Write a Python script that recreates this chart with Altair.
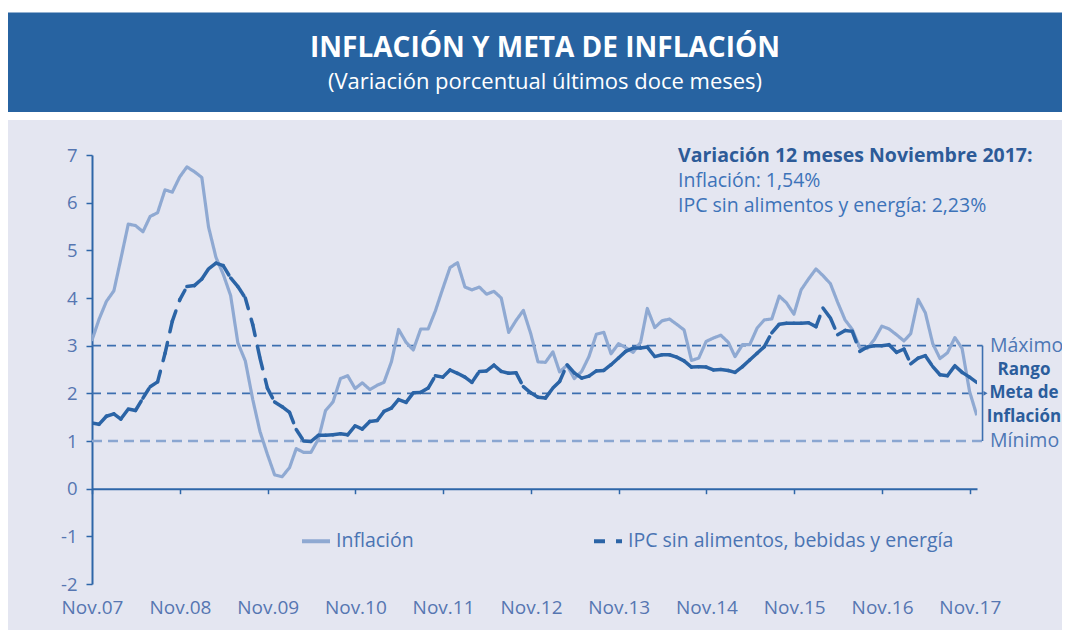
import altair as alt
import pandas as pd

# ---------------- data ----------------
first_month = "2007-10-01"
inflacion = [
    3.10, 3.55, 3.93,
    4.15, 4.82, 5.55, 5.52, 5.39, 5.71, 5.79, 6.27, 6.22, 6.54, 6.75, 6.65,
    6.53, 5.49, 4.85, 4.50, 4.05, 3.06, 2.68, 1.87, 1.20, 0.72, 0.29, 0.25,
    0.44, 0.84, 0.76, 0.76, 1.04, 1.64, 1.82, 2.31, 2.37, 2.10, 2.22, 2.08,
    2.17, 2.23, 2.66, 3.34, 3.07, 2.91, 3.35, 3.35, 3.73, 4.20, 4.64, 4.74,
    4.23, 4.17, 4.23, 4.08, 4.14, 4.00, 3.28, 3.53, 3.74, 3.25, 2.66, 2.65,
    2.87, 2.45, 2.59, 2.31, 2.46, 2.77, 3.24, 3.28, 2.83, 3.04, 2.96, 2.86,
    3.07, 3.78, 3.38, 3.52, 3.56, 3.45, 3.33, 2.69, 2.74, 3.09, 3.16, 3.22,
    3.07, 2.77, 3.02, 3.02, 3.37, 3.54, 3.56, 4.04, 3.90, 3.66, 4.17, 4.40,
    4.61, 4.47, 4.30, 3.91, 3.54, 3.34, 2.96, 2.94, 3.13, 3.41, 3.35, 3.23,
    3.10, 3.25, 3.97, 3.69, 3.04, 2.73, 2.85, 3.17, 2.94, 2.04, 1.54,
]
ipc_sae = [
    1.38, 1.35, 1.52,
    1.57, 1.46, 1.67, 1.64, 1.90, 2.14, 2.24, 2.84, 3.51, 3.96, 4.24, 4.26,
    4.40, 4.61, 4.73, 4.68, 4.42, 4.24, 4.00, 3.44, 2.74, 2.11, 1.82, 1.72,
    1.60, 1.24, 1.00, 0.99, 1.12, 1.12, 1.13, 1.15, 1.13, 1.32, 1.25, 1.41,
    1.43, 1.62, 1.69, 1.87, 1.81, 2.01, 2.02, 2.11, 2.37, 2.34, 2.49, 2.42,
    2.34, 2.23, 2.46, 2.47, 2.59, 2.46, 2.42, 2.43, 2.14, 2.01, 1.92, 1.90,
    2.11, 2.25, 2.60, 2.43, 2.32, 2.36, 2.47, 2.48, 2.60, 2.74, 2.88, 2.95,
    2.95, 2.97, 2.77, 2.81, 2.81, 2.76, 2.68, 2.55, 2.56, 2.55, 2.49, 2.50,
    2.48, 2.44, 2.56, 2.70, 2.84, 2.98, 3.27, 3.45, 3.47, 3.47, 3.47, 3.48,
    3.40, 3.79, 3.58, 3.23, 3.32, 3.30, 2.88, 2.97, 3.00, 3.00, 3.02, 2.86,
    2.93, 2.62, 2.74, 2.79, 2.56, 2.39, 2.37, 2.58, 2.44, 2.34, 2.23,
]
series_names = ["Inflación", "IPC sin alimentos, bebidas y energía"]
tick_years = list(range(2007, 2018))
y_ticks = list(range(-2, 8))
target_levels = [3, 2, 1]
title_text = "INFLACIÓN Y META DE INFLACIÓN"
subtitle_text = "(Variación porcentual últimos doce meses)"
note_lines = ["Variación 12 meses Noviembre 2017:",
              "Inflación: 1,54%",
              "IPC sin alimentos y energía: 2,23%"]
range_top, range_bottom = "Máximo", "Mínimo"
range_mid = ["Rango", "Meta de", "Inflación"]

# ---------------- tables ----------------
months = pd.date_range(first_month, periods=len(inflacion), freq="MS") + pd.offsets.MonthEnd(0)
df_inf = pd.DataFrame({"fecha": months, "valor": inflacion, "serie": series_names[0]})
df_seg = pd.DataFrame({
    "fecha": months[:-1], "fecha2": months[1:],
    "valor": ipc_sae[:-1], "valor2": ipc_sae[1:],
    "serie": series_names[1],
})
bracket_date = pd.Timestamp("2017-12-24")
start_date = pd.Timestamp("2007-11-01")
df_targets = pd.DataFrame({"nivel": target_levels, "d1": start_date, "d2": bracket_date})
df_bracket = pd.DataFrame({"d": [bracket_date], "lo": [min(target_levels)],
                           "hi": [max(target_levels)], "mid": [2]})
one = pd.DataFrame({"k": [0]})

# ---------------- styling ----------------
W, H = 885, 429
PAD = {"left": 84, "top": 147, "right": 85, "bottom": 46}
FONT = "Open Sans"
BG = "#e4e6f1"
HEADER = "#2763a1"
AXIS = "#2e66a8"
LABEL = "#5676b1"
LIGHT = "#8fa9d2"
DARK = "#2b64a6"

xscale = alt.Scale(domain=[alt.DateTime(year=2007, month=11, date=1),
                           alt.DateTime(year=2017, month=12, date=1)], nice=False)
xaxis = alt.Axis(values=[alt.DateTime(year=y, month=11, date=1) for y in tick_years],
                 format="%b.%y", title=None, grid=False, offset=-95.3,
                 domainColor=AXIS, domainWidth=2, tickColor=AXIS, tickWidth=1.5, tickSize=5,
                 labelFont=FONT, labelFontSize=19, labelColor=LABEL, labelPadding=105,
                 labelFlush=False)
yscale = alt.Scale(domain=[-2, 7], nice=False, zero=False)
yaxis = alt.Axis(values=y_ticks, title=None, grid=False, domainColor=AXIS, domainWidth=2,
                 tickColor=AXIS, tickWidth=1.5, tickSize=6, labelFont=FONT, labelFontSize=18.5,
                 labelColor=LABEL, labelPadding=9, labelExpr="'' + datum.value")


def X(f):
    return alt.X(f, type="temporal", scale=xscale, axis=xaxis, title=None)


def Y(f):
    return alt.Y(f, type="quantitative", scale=yscale, axis=yaxis, title=None)


legend = alt.Legend(title=None, orient="none", legendX=208, legendY=370,
                    direction="horizontal", symbolType="stroke",
                    symbolSize=784, symbolStrokeWidth=4, columnPadding=172,
                    labelFont=FONT, labelFontSize=19.5, labelColor="#4a74b3",
                    labelOffset=4, padding=0, labelLimit=0)
color = alt.Color("serie:N", scale=alt.Scale(domain=series_names, range=[LIGHT, DARK]),
                  legend=legend)
dash = alt.StrokeDash("serie:N", scale=alt.Scale(domain=series_names, range=[[1, 0], [11, 11]]),
                      legend=legend)


def txt(s, x, y, size=18, weight="normal", col="#3d73b9", align="left"):
    return alt.Chart(one).mark_text(text=s, font=FONT, fontSize=size, fontWeight=weight,
                                    color=col, align=align, baseline="middle").encode(
        x=alt.value(x), y=y)


# header band
band_white = alt.Chart(one).mark_rect(color="white").encode(
    x=alt.value(-84), x2=alt.value(W + 85), y=alt.value(-147), y2=alt.value(-35))
band_blue = alt.Chart(one).mark_rect(color=HEADER).encode(
    x=alt.value(-84), x2=alt.value(W + 85), y=alt.value(-142.5), y2=alt.value(-43))
head1 = alt.Chart(one).mark_text(text=title_text, font=FONT, fontSize=28, fontWeight="bold",
                                 color="white", align="center", baseline="middle").encode(
    x=alt.value(453), y=alt.value(-106))
head2 = alt.Chart(one).mark_text(text=subtitle_text, font=FONT, fontSize=22,
                                 color="white", align="center", baseline="middle").encode(
    x=alt.value(453), y=alt.value(-73))

# target lines
t_main = alt.Chart(df_targets).transform_filter("datum.nivel >= 2").mark_rule(
    color="#3c6fb0", strokeWidth=1.7, strokeDash=[9, 6]).encode(
    x=X("d1"), x2="d2", y=Y("nivel"))
t_low = alt.Chart(df_targets).transform_filter("datum.nivel < 2").mark_rule(
    color="#8aa6d1", strokeWidth=2.6, strokeDash=[10, 6]).encode(
    x=X("d1"), x2="d2", y=Y("nivel"))
bracket = alt.Chart(df_bracket).mark_rule(color="#3c6fb0", strokeWidth=1.6).encode(
    x=X("d"), y=Y("lo"), y2="hi")
notch = alt.Chart(df_bracket).mark_point(shape="triangle-right", filled=True, size=22,
                                         color="#3c6fb0", opacity=1, xOffset=3).encode(
    x=X("d"), y=Y("mid"))

# series
line_inf = alt.Chart(df_inf).mark_line(clip=True, strokeWidth=3.2, strokeJoin="round").encode(
    x=X("fecha"), y=Y("valor"), color=color, strokeDash=dash)
line_sae = alt.Chart(df_seg).mark_rule(clip=True, strokeWidth=3.5, strokeCap="round").encode(
    x=X("fecha"), x2="fecha2", y=Y("valor"), y2="valor2", color=color, strokeDash=dash)

# annotations
note1 = txt(note_lines[0], 586, alt.value(1), 19.5, "bold", "#2d5b98")
note2 = txt(note_lines[1], 586, alt.value(25.5), 19.5)
note3 = txt(note_lines[2], 586, alt.value(50.5), 19.5)
r_top = txt(range_top, 898, alt.Y(datum=3, scale=yscale, axis=yaxis), 19.5, col="#4d77b5")
r_bot = txt(range_bottom, 898, alt.Y(datum=1, scale=yscale, axis=yaxis), 19.5, col="#4d77b5")
r_m1 = txt(range_mid[0], 932, alt.Y(datum=2.5, scale=yscale, axis=yaxis), 17, "bold", "#2b5d9c", "center")
r_m2 = txt(range_mid[1], 932, alt.Y(datum=2.0, scale=yscale, axis=yaxis), 17, "bold", "#2b5d9c", "center")
r_m3 = txt(range_mid[2], 932, alt.Y(datum=1.5, scale=yscale, axis=yaxis), 17, "bold", "#2b5d9c", "center")

chart = alt.layer(
    band_white, band_blue, head1, head2,
    t_main, t_low, bracket, notch,
    line_inf, line_sae,
    note1, note2, note3, r_top, r_bot, r_m1, r_m2, r_m3,
).properties(
    width=W, height=H,
    autosize=alt.AutoSizeParams(type="none"),
    padding=PAD,
).configure(background=BG, font=FONT).configure_view(stroke=None)

chart.save("out.html", embed_options={"renderer": "svg", "actions": False})
